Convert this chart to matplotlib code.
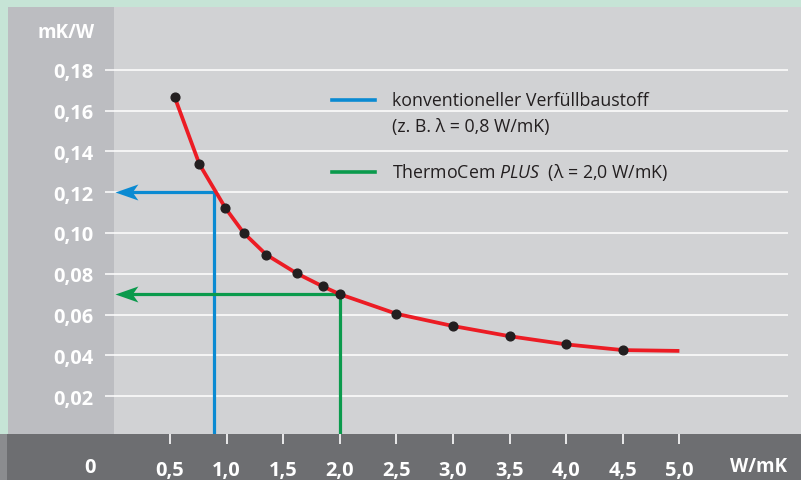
"""Thermal borehole resistance vs. grout conductivity, redrawn with matplotlib."""

import matplotlib

matplotlib.use("Agg")
import matplotlib.pyplot as plt
from matplotlib.patches import Rectangle
from matplotlib.path import Path

# --- data --------------------------------------------------------------
lambda_wmk = [0.54, 0.76, 0.99, 1.15, 1.35, 1.62, 1.85, 2.0, 2.5, 3.0, 3.5, 4.0, 4.5]
resistance = [0.1668, 0.1337, 0.1122, 0.1001, 0.0894, 0.0802, 0.0738, 0.0700,
              0.0604, 0.0544, 0.0494, 0.0454, 0.0426]
curve_x = lambda_wmk + [5.0]
curve_y = resistance + [0.0422]

xticks = [0.5, 1.0, 1.5, 2.0, 2.5, 3.0, 3.5, 4.0, 4.5, 5.0]
xtick_labels = ["0,5", "1,0", "1,5", "2,0", "2,5", "3,0", "3,5", "4,0", "4,5", "5,0"]
yticks = [0.02, 0.04, 0.06, 0.08, 0.10, 0.12, 0.14, 0.16, 0.18]
ytick_labels = ["0,02", "0,04", "0,06", "0,08", "0,10", "0,12", "0,14", "0,16", "0,18"]

conv_x, conv_y = 0.89, 0.12      # konventioneller Verfuellbaustoff
thermo_x, thermo_y = 2.0, 0.07   # ThermoCem PLUS

# --- colours / geometry --------------------------------------------------
MINT = "#c6e4d6"
PANEL = "#bcbdc1"
PLOT_BG = "#d1d2d4"
BAND = "#6d6e71"
BAND_EDGE = "#8b8c8f"
RED = "#ec1c24"
BLUE = "#0a8ad2"
GREEN = "#0a9a4c"
DARK = "#231f20"

W, H = 801, 481
X0_PX, PX_PER_X = 113.4, 113.2    # pixel of x=0, pixels per W/mK
Y0_PX, PX_PER_Y = 438.0, 2040.0   # pixel of y=0, pixels per mK/W

plt.rcParams["font.family"] = ["Open Sans", "DejaVu Sans"]
plt.rcParams["mathtext.fontset"] = "custom"
plt.rcParams["mathtext.rm"] = "Open Sans"
plt.rcParams["mathtext.it"] = "Open Sans:italic"


def fbox(x0, y0, x1, y1):
    """Pixel box (top-left origin) -> figure fraction rect."""
    return (x0 / W, 1 - y1 / H, (x1 - x0) / W, (y1 - y0) / H)


def main():
    fig = plt.figure(figsize=(W / 100, H / 100), dpi=100, facecolor=MINT)

    for (x0, y0, x1, y1), col in [
        ((8, 8, 114, 435), PANEL),
        ((0, 435, W, H), BAND_EDGE),
        ((7, 435, W, H), BAND),
    ]:
        l, b, w, h = fbox(x0, y0, x1, y1)
        fig.patches.append(Rectangle((l, b), w, h, transform=fig.transFigure,
                                     facecolor=col, edgecolor="none", zorder=0))

    ax = fig.add_axes(fbox(114, 8, W, 435))
    ax.set_zorder(2)
    ax.set_facecolor(PLOT_BG)
    ax.set_xlim((114 - X0_PX) / PX_PER_X, (W - X0_PX) / PX_PER_X)
    ax.set_ylim((Y0_PX - 435) / PX_PER_Y, (Y0_PX - 8) / PX_PER_Y)
    for s in ax.spines.values():
        s.set_visible(False)

    # white grid lines, reaching a little into the left panel
    ax.hlines(yticks, (105 - X0_PX) / PX_PER_X, (788 - X0_PX) / PX_PER_X,
              colors="white", linewidth=1.1, clip_on=False, zorder=1)

    ax.set_yticks(yticks)
    ax.set_yticklabels(ytick_labels)
    ax.tick_params(axis="y", length=0, pad=15, labelsize=14.4, labelcolor="white")
    for t in ax.get_yticklabels():
        t.set_fontweight("bold")

    ax.set_xticks(xticks)
    ax.set_xticklabels(xtick_labels)
    ax.tick_params(axis="x", direction="out", length=7.5, width=1.2, color="white",
                   pad=11, labelsize=14.4, labelcolor="white")
    for t in ax.get_xticklabels():
        t.set_fontweight("bold")

    # arrowhead marker, tip at origin pointing left
    head = Path([(0, 0), (1, 0.35), (0.75, 0), (1, -0.35), (0, 0)],
                [Path.MOVETO, Path.LINETO, Path.LINETO, Path.LINETO, Path.CLOSEPOLY])
    tip = (115 - X0_PX) / PX_PER_X
    y_bottom = ax.get_ylim()[0]

    for lx, ly, col in [(conv_x, conv_y, BLUE), (thermo_x, thermo_y, GREEN)]:
        ax.plot([lx, lx], [y_bottom, ly], color=col, linewidth=2.3,
                solid_capstyle="butt", zorder=2)
        ax.plot([tip + 0.1, lx], [ly, ly], color=col, linewidth=2.3,
                solid_capstyle="butt", zorder=2)
        ax.plot([tip], [ly], marker=head, markersize=33, color=col,
                markeredgewidth=0, linestyle="none", zorder=2)

    ax.plot(curve_x, curve_y, color=RED, linewidth=2.7, zorder=3,
            solid_capstyle="butt", solid_joinstyle="round")
    ax.plot(lambda_wmk, resistance, "o", color=DARK, markersize=6.3, zorder=4)

    # legend drawn by hand
    lx0, lx1, tx = (332 - 114) / 687, (375 - 114) / 687, (392 - 114) / 687
    for yy, col in [((435 - 100.7) / 427, BLUE), ((435 - 172.7) / 427, GREEN)]:
        ax.plot([lx0, lx1], [yy, yy], color=col, linewidth=2.6,
                transform=ax.transAxes, zorder=5)
    ax.text(tx, (435 - 100.7) / 427, "konventioneller Verfüllbaustoff",
            transform=ax.transAxes, fontsize=12.8, color=DARK, va="center")
    ax.text(tx, (435 - 127) / 427, "(z. B. λ = 0,8 W/mK)",
            transform=ax.transAxes, fontsize=12.8, color=DARK, va="center")
    ax.text(tx, (435 - 172.7) / 427, r"ThermoCem $\mathit{PLUS}$  (λ = 2,0 W/mK)",
            transform=ax.transAxes, fontsize=12.8, color=DARK, va="center")

    # axis unit labels
    fig.text(95 / W, 1 - 33 / H, "mK/W", ha="right", va="center",
             fontsize=13.6, fontweight="bold", color="white")
    fig.text(90 / W, 1 - 468 / H, "0", ha="center", va="center",
             fontsize=14.4, fontweight="bold", color="white")
    fig.text(787 / W, 1 - 467 / H, "W/mK", ha="right", va="center",
             fontsize=13.6, fontweight="bold", color="white")

    fig.savefig("out.png", dpi=100, facecolor=MINT)
    plt.close(fig)


if __name__ == "__main__":
    main()
